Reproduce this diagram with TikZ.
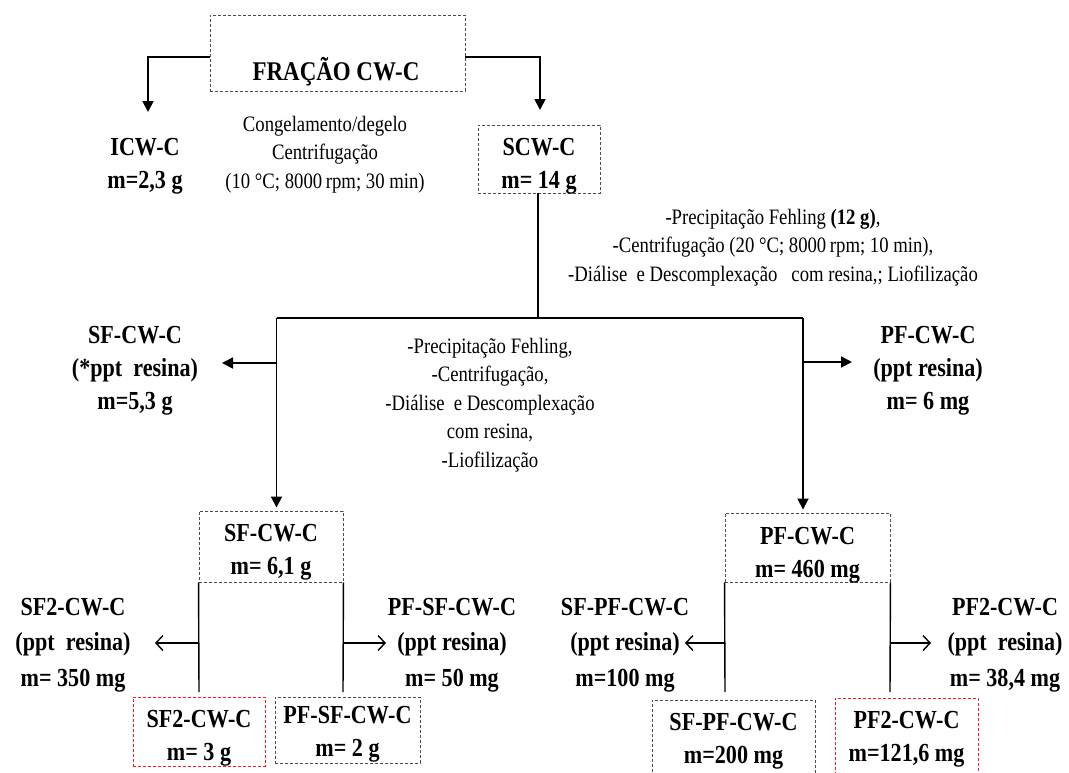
\documentclass[tikz,border=0pt]{standalone}
\usepackage{fontspec}
\setmainfont{Liberation Serif}[FakeStretch=0.85]
\usetikzlibrary{arrows.meta}
\begin{document}
\begin{tikzpicture}[x=1pt,y=-1pt,
  lbl/.style={font=\fontsize{26}{33}\selectfont\bfseries, align=center, inner sep=0pt},
  lblb/.style={font=\fontsize{26}{35.5}\selectfont\bfseries, align=center, inner sep=0pt},
  txt/.style={font=\fontsize{22}{28.5}\selectfont, align=center, inner sep=0pt},
  dbox/.style={draw=black!70, dash pattern=on 3pt off 2pt, line width=0.9pt, inner sep=0pt},
  rbox/.style={dbox, draw=red!90},
  ln/.style={line width=1.8pt},
  thinln/.style={line width=1.4pt},
  arr/.style={ln, -{Triangle[length=11pt,width=11pt]}},
  oarr/.style={thinln, -{Straight Barb[length=7pt,width=15pt,line width=1.4pt]}},
]
\useasboundingbox (0,0) rectangle (1069,772);

% ---------- top ----------
\node[dbox, minimum width=255pt, minimum height=76pt] (frac) at (337.5,53) {};
\node[font=\fontsize{27}{30}\selectfont\bfseries, inner sep=0pt, anchor=base] (fractxt) at (336,80) {FRAÇÃO CW-C};

\node[lbl] (icw) at (145,165.8) {ICW-C\\m=2,3 g};
\node[txt] (cong) at (325,154.3) {Congelamento/degelo\\Centrifugação\\(10 °C; 8000\,rpm; 30 min)};

\node[dbox, minimum width=122pt, minimum height=68pt] (scwbox) at (539,159) {};
\node[lbl] (scwtxt) at (539,165.8) {SCW-C\\m= 14 g};

\coordinate (icwtip) at (148,112);
\coordinate (scwtip) at (540,110);
\draw[arr] ([yshift=-4pt]frac.west) -| (icwtip);
\draw[arr] ([yshift=-4pt]frac.east) -| (scwtip);

\node[txt] (fehl) at (773,247.6) {-Precipitação Fehling \textbf{(12 g)},\\-Centrifugação (20 °C; 8000\,rpm; 10 min),\\-Diálise~ e Descomplexação~~ com resina,; Liofilização};

% ---------- split ----------
\coordinate (hub) at (538,318);
\coordinate (jl) at (276.5,318);
\coordinate (jr) at (803,318);
\draw[ln] (scwbox.south -| hub) -- (hub);
\draw[ln] (jl) -- (jr);

\node[lbl] (sfcw) at (135,370.8) {SF-CW-C\\(*ppt~ resina)\\m=5,3 g};
\node[lbl] (pfcw) at (928,370.8) {PF-CW-C\\(ppt resina)\\m= 6 mg};
\node[txt] (mid) at (490,404.8) {-Precipitação Fehling,\\-Centrifugação,\\-Diálise~ e Descomplexação\\com resina,\\-Liofilização};

\coordinate (al) at (222,363);
\coordinate (ar) at (852,362);
\draw[arr] (jl |- al) -- (al);
\draw[arr] (jr |- ar) -- (ar);

% ---------- second level boxes ----------
\node[dbox, minimum width=144pt, minimum height=71pt] (sfbox) at (271,546.5) {};
\node[lbl] (sfboxtxt) at (271,551.8) {SF-CW-C\\m= 6,1 g};
\node[dbox, minimum width=165pt, minimum height=69pt] (pfbox) at (807.5,547.5) {};
\node[lbl] (pfboxtxt) at (807.5,554.8) {PF-CW-C\\m= 460 mg};

\draw[arr, shorten >=3pt] (jl) -- (jl |- sfbox.north);
\draw[arr, shorten >=3pt] (jr) -- (jr |- pfbox.north);

% ---------- SF branch ----------
\coordinate (sfl) at (199,692);
\coordinate (sfr) at (343,692);
\coordinate (sfla) at (155,643);
\coordinate (sfra) at (386,643);
\draw[thinln] (sfbox.south west) -- (sfl);
\draw[thinln] (sfbox.south east) -- (sfr);
\draw[oarr] (sfbox.south west |- sfla) -- (sfla);
\draw[oarr] (sfbox.south east |- sfra) -- (sfra);

\node[lblb] (sf2) at (73,644.8) {SF2-CW-C\\(ppt~ resina)\\m= 350 mg};
\node[lblb] (pfsf) at (452,644.8) {PF-SF-CW-C\\(ppt resina)\\m= 50 mg};

\node[rbox, minimum width=132pt, minimum height=69pt] (sf2box) at (199,731.5) {};
\node[lbl] (sf2boxtxt) at (199,737.8) {SF2-CW-C\\m= 3 g};
\node[dbox, minimum width=145pt, minimum height=66pt] (pfsfbox) at (347.5,730) {};
\node[lbl] (pfsfboxtxt) at (347.5,734.3) {PF-SF-CW-C\\m= 2 g};

% ---------- PF branch ----------
\coordinate (pfl) at (725,692);
\coordinate (pfr) at (890,692);
\coordinate (pfla) at (685,643);
\coordinate (pfra) at (931,643);
\draw[thinln] (pfbox.south west) -- (pfl);
\draw[thinln] (pfbox.south east) -- (pfr);
\draw[oarr] (pfbox.south west |- pfla) -- (pfla);
\draw[oarr] (pfbox.south east |- pfra) -- (pfra);

\node[lblb] (sfpf) at (625,644.8) {SF-PF-CW-C\\(ppt resina)\\m=100 mg};
\node[lblb] (pf2) at (1005,644.8) {PF2-CW-C\\(ppt~ resina)\\m= 38,4 mg};

\node[dbox, minimum width=163pt, minimum height=80pt] (sfpfbox) at (733.5,740) {};
\node[lbl] (sfpfboxtxt) at (733.5,741.3) {SF-PF-CW-C\\m=200 mg};
\node[rbox, minimum width=143pt, minimum height=80pt] (pf2box) at (906.5,738) {};
\node[lbl] (pf2boxtxt) at (906.5,739.3) {PF2-CW-C\\m=121,6 mg};
\end{tikzpicture}
\end{document}
